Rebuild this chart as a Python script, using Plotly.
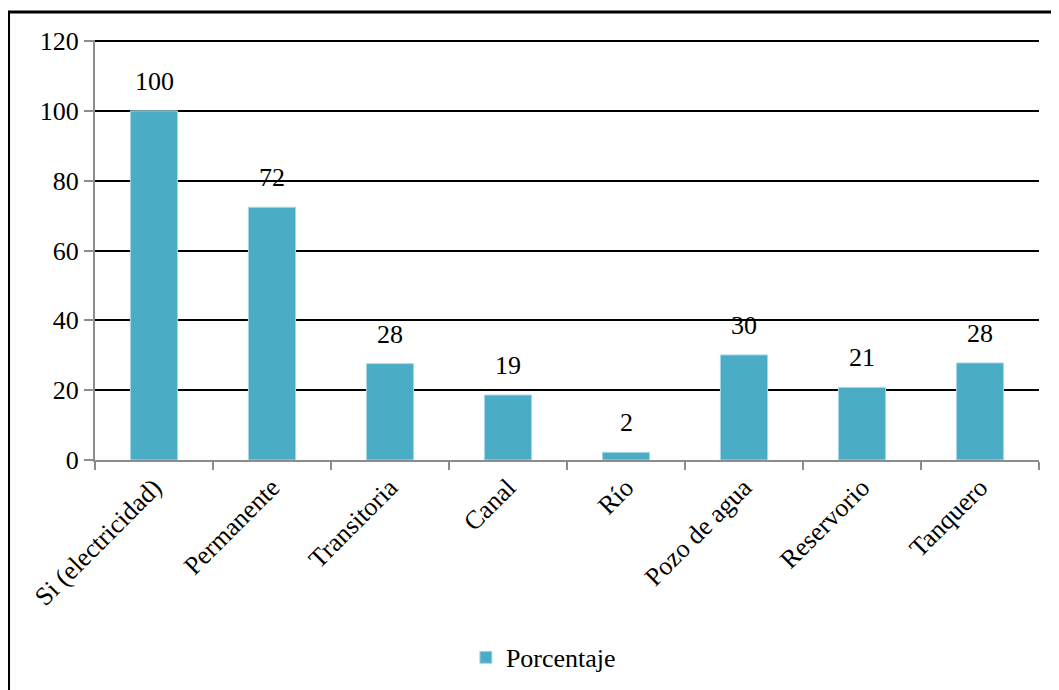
import plotly.graph_objects as go

categories = ["Si (electricidad)", "Permanente", "Transitoria", "Canal", "Río",
              "Pozo de agua", "Reservorio", "Tanquero"]
values = [100, 72.4, 27.6, 18.6, 2.2, 30.1, 20.8, 27.8]
labels = ["100", "72", "28", "19", "2", "30", "21", "28"]
series_name = "Porcentaje"
y_ticks = [0, 20, 40, 60, 80, 100, 120]

FONT = "Liberation Serif"
BAR = "#4BACC6"
FS = 26

fig = go.Figure()
fig.add_trace(go.Bar(
    x=categories, y=values, name=series_name,
    marker=dict(color=BAR, line=dict(color="#a9d8e6", width=1)),
    width=0.4, showlegend=True,
))

for c, v, t in zip(categories, values, labels):
    fig.add_annotation(x=c, y=v, text=t, showarrow=False, yanchor="bottom",
                       yshift=13, font=dict(family=FONT, size=FS, color="black"))

# outer frame
fig.add_shape(type="rect", xref="paper", yref="paper",
              x0=-0.0916, x1=1.2, y0=-1.0, y1=1.0668,
              line=dict(color="black", width=3), layer="above")

fig.update_layout(
    width=1059, height=690,
    margin=dict(l=87, r=28, t=32, b=238),
    paper_bgcolor="white", plot_bgcolor="white",
    font=dict(family=FONT, size=FS, color="black"),
    showlegend=True,
    legend=dict(orientation="h", x=0.475, xanchor="center", y=-0.47, yanchor="middle",
                font=dict(family=FONT, size=FS, color="black"),
                itemwidth=30),
    xaxis=dict(
        type="category", showline=True, linecolor="#8c8c8c", linewidth=2,
        ticks="outside", tickson="boundaries", ticklen=8, tickcolor="#8c8c8c",
        tickwidth=2, tickangle=-45, showgrid=False,
        tickfont=dict(family=FONT, size=FS, color="black"),
    ),
    yaxis=dict(
        range=[0, 120.3], tickvals=y_ticks, showline=True, linecolor="#8c8c8c",
        linewidth=2, ticks="outside", ticklen=9, tickcolor="#8c8c8c", tickwidth=2,
        showgrid=True, gridcolor="black", gridwidth=2, zeroline=False,
        tickfont=dict(family=FONT, size=FS, color="black"),
    ),
)

fig.write_html("out.html")
